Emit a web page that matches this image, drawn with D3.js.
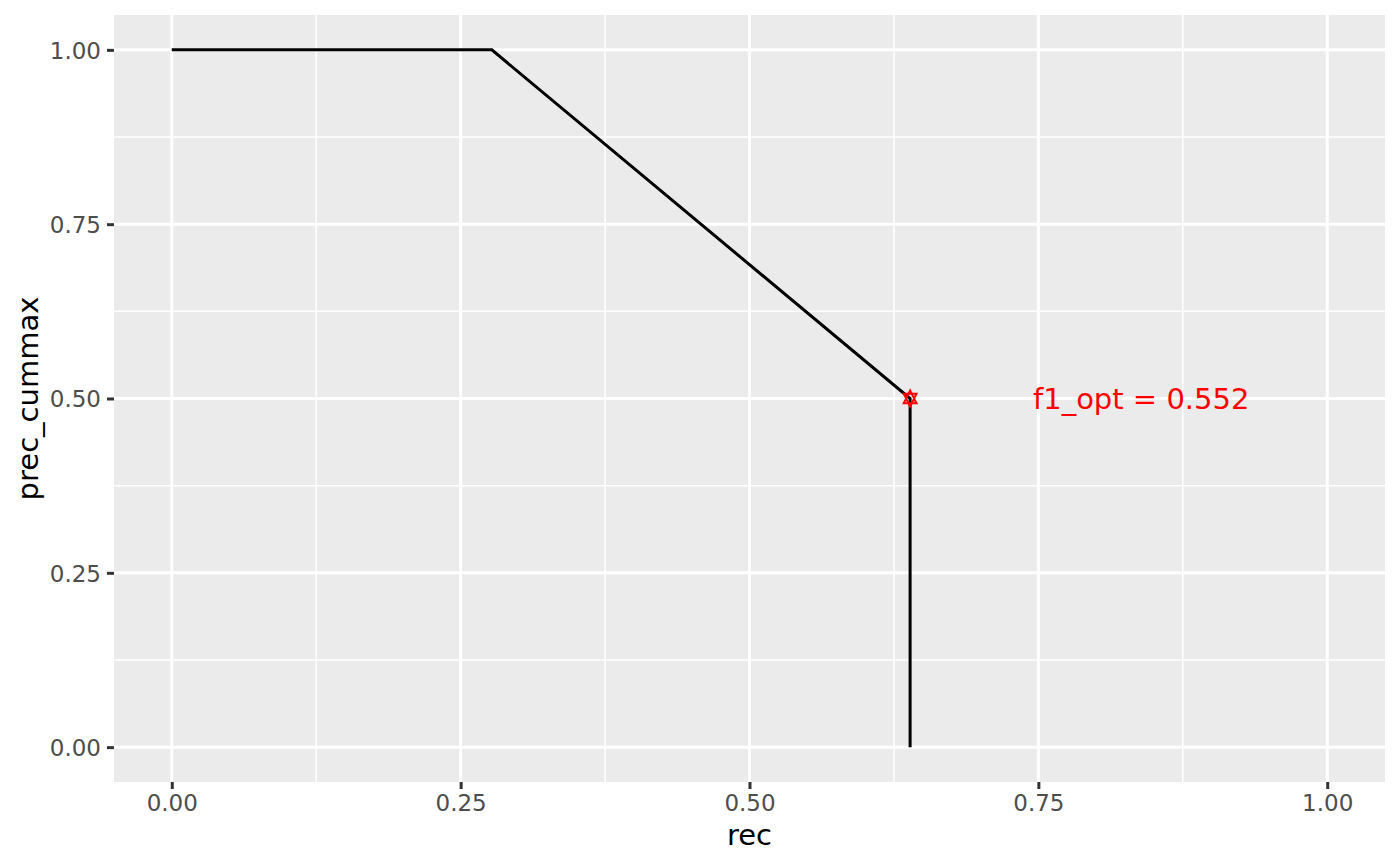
<!DOCTYPE html>
<html>
<head>
<meta charset="utf-8">
<script src="https://cdn.jsdelivr.net/npm/d3@7"></script>
<style>
  body { margin: 0; background: #fff; }
  svg { display: block; font-family: "DejaVu Sans", sans-serif; }
</style>
</head>
<body>
<svg width="1400" height="866"></svg>
<script>
// values
var rec = [0, 0.277, 0.639, 0.639];
var precCummax = [1, 1, 0.5, 0];
var optRec = [0.639];
var optPrec = [0.5];
var optLabel = ["f1_opt = 0.552"];
var xTicks = [0, 0.25, 0.5, 0.75, 1];
var yTicks = [0, 0.25, 0.5, 0.75, 1];
var minorTicks = [0.125, 0.375, 0.625, 0.875];

var svg = d3.select("svg");
var panel = { left: 114, right: 1385, top: 15, bottom: 782 };

var x = d3.scaleLinear().domain([-0.05, 1.05]).range([panel.left, panel.right]);
var y = d3.scaleLinear().domain([-0.05, 1.05]).range([panel.bottom, panel.top]);
var fmt = d3.format(".2f");

svg.append("rect")
  .attr("x", panel.left).attr("y", panel.top)
  .attr("width", panel.right - panel.left)
  .attr("height", panel.bottom - panel.top)
  .attr("fill", "#EBEBEB");

var grid = svg.append("g");
// minor grid
grid.selectAll(".vminor").data(minorTicks).enter().append("line")
  .attr("x1", function(d) { return x(d); }).attr("x2", function(d) { return x(d); })
  .attr("y1", panel.top).attr("y2", panel.bottom)
  .attr("stroke", "#fff").attr("stroke-width", 1.5);
grid.selectAll(".hminor").data(minorTicks).enter().append("line")
  .attr("y1", function(d) { return y(d); }).attr("y2", function(d) { return y(d); })
  .attr("x1", panel.left).attr("x2", panel.right)
  .attr("stroke", "#fff").attr("stroke-width", 1.5);
// major grid
grid.selectAll(".vmajor").data(xTicks).enter().append("line")
  .attr("x1", function(d) { return x(d); }).attr("x2", function(d) { return x(d); })
  .attr("y1", panel.top).attr("y2", panel.bottom)
  .attr("stroke", "#fff").attr("stroke-width", 3);
grid.selectAll(".hmajor").data(yTicks).enter().append("line")
  .attr("y1", function(d) { return y(d); }).attr("y2", function(d) { return y(d); })
  .attr("x1", panel.left).attr("x2", panel.right)
  .attr("stroke", "#fff").attr("stroke-width", 3);

// axes
var xAxis = svg.append("g")
  .attr("transform", "translate(0," + panel.bottom + ")")
  .call(d3.axisBottom(x).tickValues(xTicks).tickFormat(fmt).tickSize(7).tickPadding(6));
var yAxis = svg.append("g")
  .attr("transform", "translate(" + panel.left + ",0)")
  .call(d3.axisLeft(y).tickValues(yTicks).tickFormat(fmt).tickSize(7).tickPadding(6));
[xAxis, yAxis].forEach(function(a) {
  a.select(".domain").remove();
  a.selectAll(".tick line").attr("stroke", "#333333").attr("stroke-width", 3);
  a.selectAll(".tick text")
    .attr("fill", "#4D4D4D")
    .style("font-size", "23px")
    .style("font-family", "DejaVu Sans");
});
yAxis.selectAll(".tick text").attr("dy", "0.36em");

// line
var pts = rec.map(function(r, i) { return [r, precCummax[i]]; });
svg.append("path")
  .datum(pts)
  .attr("fill", "none")
  .attr("stroke", "#000")
  .attr("stroke-width", 3)
  .attr("d", d3.line().x(function(d) { return x(d[0]); }).y(function(d) { return y(d[1]); }));

// optimum markers: open triangle up and down
var tri = 8;
optRec.forEach(function(r, i) {
  var cx = x(r), cy = y(optPrec[i]);
  svg.append("path")
    .attr("d", "M" + cx + "," + (cy - tri) + "L" + (cx + tri * 0.8) + "," + (cy + tri * 0.6) + "L" + (cx - tri * 0.8) + "," + (cy + tri * 0.6) + "Z")
    .attr("fill", "none").attr("stroke", "red").attr("stroke-width", 2);
  svg.append("path")
    .attr("d", "M" + cx + "," + (cy + tri) + "L" + (cx + tri * 0.8) + "," + (cy - tri * 0.6) + "L" + (cx - tri * 0.8) + "," + (cy - tri * 0.6) + "Z")
    .attr("fill", "none").attr("stroke", "red").attr("stroke-width", 2);
  svg.append("text")
    .attr("x", x(r + 0.2))
    .attr("y", cy)
    .attr("dy", "0.36em")
    .attr("text-anchor", "middle")
    .attr("fill", "red")
    .style("font-size", "29px")
    .text(optLabel[i]);
});

// axis titles
svg.append("text")
  .attr("x", (panel.left + panel.right) / 2)
  .attr("y", 845)
  .attr("text-anchor", "middle")
  .attr("fill", "#000")
  .style("font-size", "29px")
  .text("rec");
svg.append("text")
  .attr("transform", "translate(38," + ((panel.top + panel.bottom) / 2) + ") rotate(-90)")
  .attr("text-anchor", "middle")
  .attr("fill", "#000")
  .style("font-size", "29px")
  .text("prec_cummax");
</script>
</body>
</html>
